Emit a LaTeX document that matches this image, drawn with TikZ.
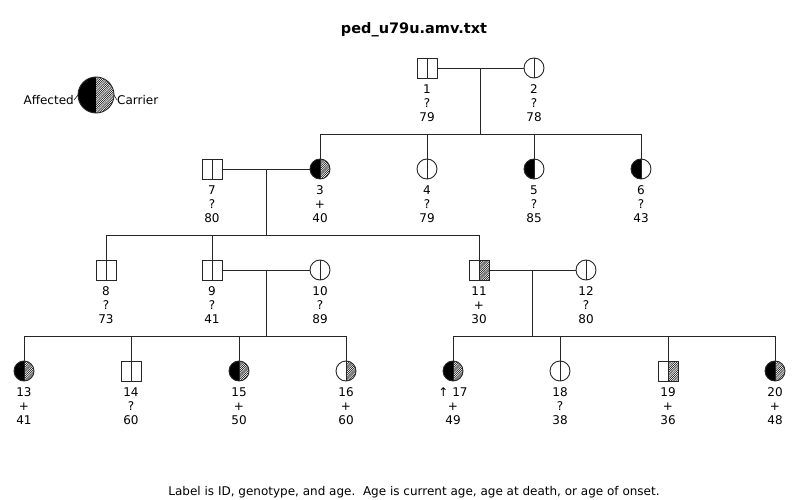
\documentclass[tikz,border=0pt]{standalone}
\usepackage{fontspec}
\setmainfont{DejaVu Sans}
\usetikzlibrary{patterns,calc}
\pgfdeclarepatternformonly{finehatch}{\pgfqpoint{-1pt}{-1pt}}{\pgfqpoint{3pt}{3pt}}{\pgfqpoint{2.2pt}{2.2pt}}{%
  \pgfsetlinewidth{0.5pt}
  \pgfpathmoveto{\pgfqpoint{0pt}{0pt}}
  \pgfpathlineto{\pgfqpoint{2.3pt}{2.3pt}}
  \pgfusepath{stroke}
}
\tikzset{
  sq/.style={draw=none,minimum size=20pt,inner sep=0pt,outer sep=0pt,rectangle},
  ci/.style={draw=none,minimum size=20pt,inner sep=0pt,outer sep=0pt,circle},
  lbl/.style={align=center,font=\fontsize{12}{14}\selectfont,inner sep=0pt},
  con/.style={line width=0.9pt,black!85},
  hat/.style={pattern=finehatch},
}
% \mkperson{name}{x}{y}{0 square / 1 circle}{left: a/n}{right: h/n}{label}
\newcommand{\mkperson}[7]{%
  \ifnum#4=1\node[ci] (#1) at (#2,#3) {};\else\node[sq] (#1) at (#2,#3) {};\fi
  \begin{scope}
    \ifnum#4=1\clip (#1.center) circle[radius=10pt];\fi
    \if a#5\fill ($(#1.center)+(-10,-10)$) rectangle ($(#1.center)+(0,10)$);\fi
    \if h#6\fill[hat] ($(#1.center)+(0,-10)$) rectangle ($(#1.center)+(10,10)$);\fi
  \end{scope}
  \ifnum#4=1\draw[con] (#1.center) circle[radius=10pt];
  \else\draw[con] (#1.south west) rectangle (#1.north east);\fi
  \draw[con] (#1.north) -- (#1.south);
  \node[lbl] (#1l) at (#2,#3+35) {#7};
}
\begin{document}
\begin{tikzpicture}[x=1pt,y=-1pt]
\useasboundingbox (0,0) rectangle (800,500);
\node[font=\fontsize{14.5}{16}\selectfont\bfseries] (title) at (414,30) {ped\_u79u.amv.txt};
\node[lbl] (cap) at (414,492) {Label is ID, genotype, and age.\ \ Age is current age, age at death, or age of onset.};

% legend
\node[ci,minimum size=36pt] (leg) at (96,95) {};
\begin{scope}
  \clip (leg.center) circle[radius=18pt];
  \fill ($(leg.center)+(-18,-18)$) rectangle ($(leg.center)+(0,18)$);
  \fill[hat] ($(leg.center)+(0,-18)$) rectangle ($(leg.center)+(18,18)$);
\end{scope}
\draw[con] (leg.center) circle[radius=18pt];
\node[lbl,anchor=east] (aff) at (74,100) {Affected};
\node[lbl,anchor=west] (car) at (117,100) {Carrier};
\draw[line width=0.5pt] (aff.east) -- (leg.west);
\draw[line width=0.5pt] (car.west) -- (leg.east);

% generation 1
\mkperson{n1}{427}{68}{0}{n}{n}{1\\?\\79}
\mkperson{n2}{534}{68}{1}{n}{n}{2\\?\\78}
% generation 2
\mkperson{n7}{212}{169}{0}{n}{n}{7\\?\\80}
\mkperson{n3}{320}{169}{1}{a}{h}{3\\+\\40}
\mkperson{n4}{427}{169}{1}{n}{n}{4\\?\\79}
\mkperson{n5}{534}{169}{1}{a}{n}{5\\?\\85}
\mkperson{n6}{641}{169}{1}{a}{n}{6\\?\\43}
% generation 3
\mkperson{n8}{106}{270}{0}{n}{n}{8\\?\\73}
\mkperson{n9}{212}{270}{0}{n}{n}{9\\?\\41}
\mkperson{n10}{320}{270}{1}{n}{n}{10\\?\\89}
\mkperson{n11}{479}{270}{0}{n}{h}{11\\+\\30}
\mkperson{n12}{586}{270}{1}{n}{n}{12\\?\\80}
% generation 4
\mkperson{n13}{24}{371}{1}{a}{h}{13\\+\\41}
\mkperson{n14}{131}{371}{0}{n}{n}{14\\?\\60}
\mkperson{n15}{239}{371}{1}{a}{h}{15\\+\\50}
\mkperson{n16}{346}{371}{1}{n}{h}{16\\+\\60}
\mkperson{n17}{453}{371}{1}{a}{h}{↑ 17\\+\\49}
\mkperson{n18}{560}{371}{1}{n}{n}{18\\?\\38}
\mkperson{n19}{668}{371}{0}{n}{h}{19\\+\\36}
\mkperson{n20}{775}{371}{1}{a}{h}{20\\+\\48}

% family 1 x 2
\draw[con] (n1.east) -- (n2.west);
\coordinate (m1) at ($(n1.east)!0.5!(n2.west)$);
\coordinate (s1) at ($(m1)+(0,66)$);
\draw[con] (m1) -- (s1);
\draw[con] (n3.north |- s1) -- (n6.north |- s1);
\foreach \c in {n3,n4,n5,n6} \draw[con] (\c.north) -- (\c.north |- s1);

% family 7 x 3
\draw[con] (n7.east) -- (n3.west);
\coordinate (m2) at ($(n7.east)!0.5!(n3.west)$);
\coordinate (s2) at ($(m2)+(0,66)$);
\draw[con] (m2) -- (s2);
\draw[con] (n8.north |- s2) -- (n11.north |- s2);
\foreach \c in {n8,n9,n11} \draw[con] (\c.north) -- (\c.north |- s2);

% family 9 x 10
\draw[con] (n9.east) -- (n10.west);
\coordinate (m3) at ($(n9.east)!0.5!(n10.west)$);
\coordinate (s3) at ($(m3)+(0,66)$);
\draw[con] (m3) -- (s3);
\draw[con] (n13.north |- s3) -- (n16.north |- s3);
\foreach \c in {n13,n14,n15,n16} \draw[con] (\c.north) -- (\c.north |- s3);

% family 11 x 12
\draw[con] (n11.east) -- (n12.west);
\coordinate (m4) at ($(n11.east)!0.5!(n12.west)$);
\coordinate (s4) at ($(m4)+(0,66)$);
\draw[con] (m4) -- (s4);
\draw[con] (n17.north |- s4) -- (n20.north |- s4);
\foreach \c in {n17,n18,n19,n20} \draw[con] (\c.north) -- (\c.north |- s4);
\end{tikzpicture}
\end{document}
